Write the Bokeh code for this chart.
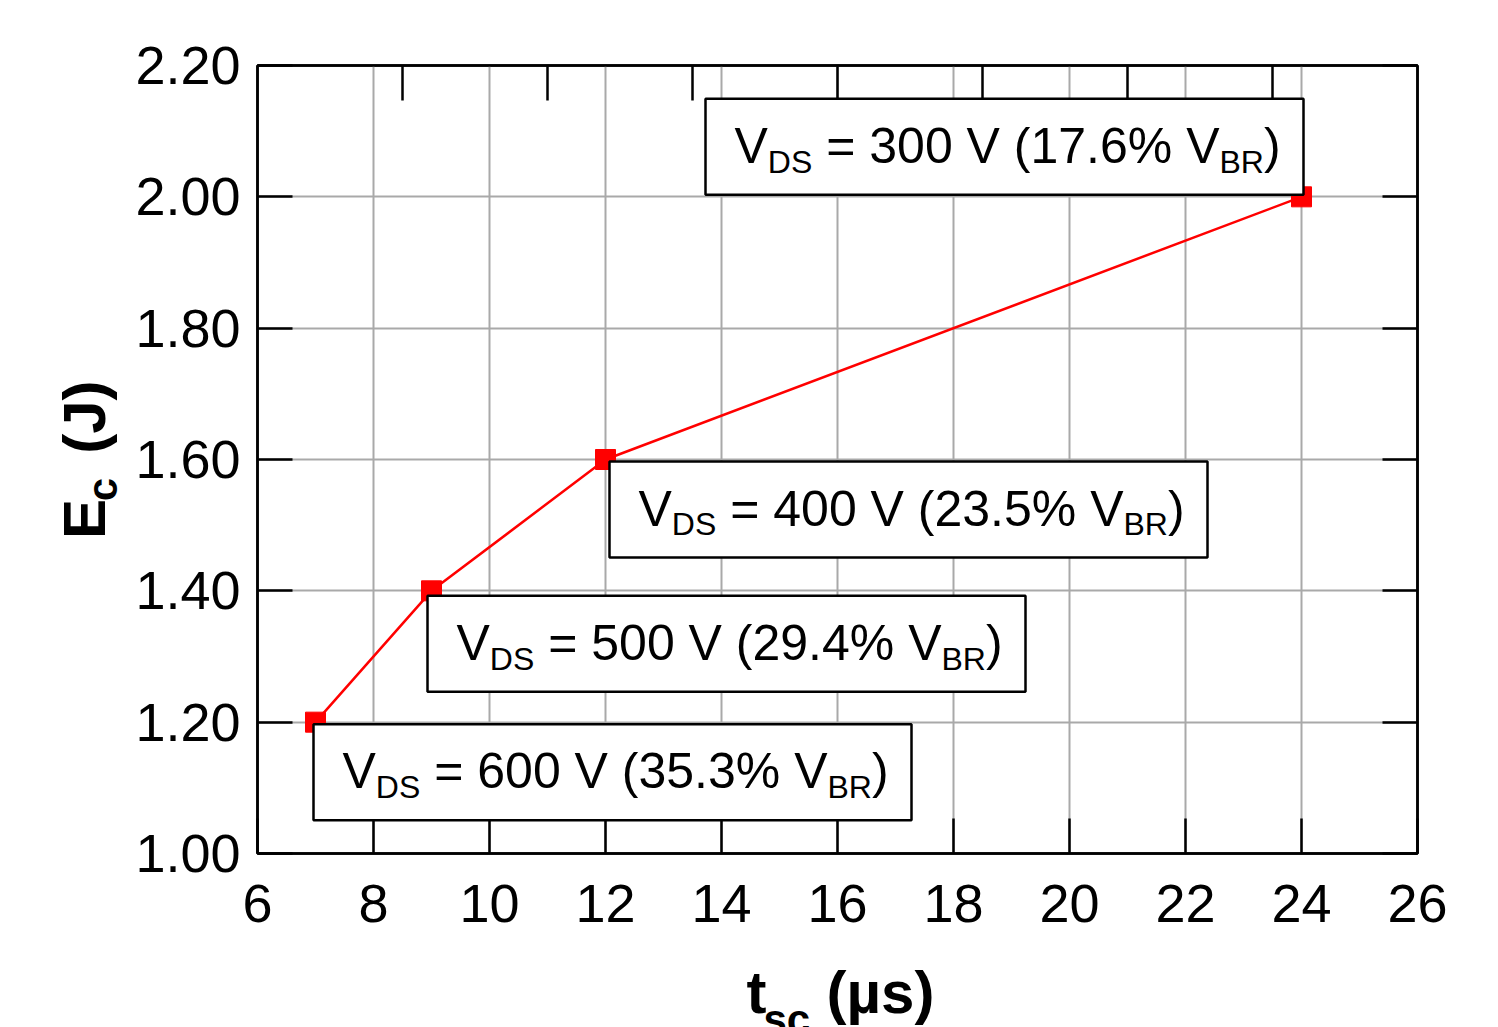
import math
from bokeh.plotting import figure
from bokeh.layouts import row, column
from bokeh.models import Range1d, LinearAxis, FixedTicker, NumeralTickFormatter
from bokeh.core.properties import value
from bokeh.embed import file_html
from bokeh.resources import INLINE

# ---------------- data ----------------
t_sc = [7, 9, 12, 24]                 # short-circuit time (us)
e_c = [1.20, 1.40, 1.60, 2.00]        # critical energy (J)
vds = [600, 500, 400, 300]            # V_DS (V)
vbr_pct = ["35.3", "29.4", "23.5", "17.6"]  # % of V_BR

x_ticks = [6, 8, 10, 12, 14, 16, 18, 20, 22, 24, 26]
y_ticks = [1.00, 1.20, 1.40, 1.60, 1.80, 2.00, 2.20]
top_ticks = [8.5, 11, 13.5, 16, 18.5, 21, 23.5]

X0, X1 = 6, 26
Y0, Y1 = 1.0, 2.2

# ---------------- layout helpers ----------------
PAGE_W, PAGE_H = 1498, 1027
LEFT_W = 130          # strip holding the y title
MAIN_H = 960          # main figure height (bottom strip holds the x title)
FW, FH = 1160, 788
XPP = (X1 - X0) / FW
YPP = (Y1 - Y0) / FH
FL, FT = 257, 65      # frame left / top on page

FONT = "Liberation Sans"
ARIAL = {' ': 278, '=': 584, '(': 333, ')': 333, '.': 278, '%': 889,
         'V': 667, 'D': 722, 'S': 667, 'B': 667, 'R': 722}
for d in "0123456789":
    ARIAL[d] = 556


def adv(s, size):
    return sum(ARIAL.get(c, 556) for c in s) * size / 1000.0


BL = 0.354   # baseline correction of text glyphs (fraction of font size)

p = figure(frame_width=FW, frame_height=FH,
           min_border_left=FL - LEFT_W, min_border_right=PAGE_W - FL - FW,
           min_border_top=FT, min_border_bottom=MAIN_H - FT - FH,
           x_range=Range1d(X0, X1), y_range=Range1d(Y0, Y1),
           output_backend="svg", toolbar_location=None)
p.background_fill_color = "white"
p.border_fill_color = "white"
p.outline_line_color = "black"
p.outline_line_width = 2.5

# grid
p.xgrid.ticker = FixedTicker(ticks=x_ticks)
p.ygrid.ticker = FixedTicker(ticks=y_ticks)
for g in (p.xgrid, p.ygrid):
    g.grid_line_color = "#a9a9a9"
    g.grid_line_width = 2


def style_axis(ax):
    ax.axis_line_color = "black"
    ax.axis_line_width = 2.5
    ax.major_tick_line_color = "black"
    ax.major_tick_line_width = 2.5
    ax.major_tick_in = 35
    ax.major_tick_out = 0
    ax.minor_tick_line_color = None
    ax.major_label_text_font = FONT
    ax.major_label_text_font_size = "54px"
    ax.major_label_text_color = "black"


xa = p.xaxis[0]
xa.ticker = FixedTicker(ticks=x_ticks)
xa.formatter = NumeralTickFormatter(format="0")
style_axis(xa)
xa.major_label_standoff = 31

ya = p.yaxis[0]
ya.ticker = FixedTicker(ticks=y_ticks)
ya.formatter = NumeralTickFormatter(format="0.00")
style_axis(ya)
ya.major_label_standoff = 17

ra = LinearAxis(ticker=FixedTicker(ticks=y_ticks),
                major_label_overrides={t: "" for t in y_ticks})
style_axis(ra)
p.add_layout(ra, "right")

ta = LinearAxis(ticker=FixedTicker(ticks=top_ticks),
                major_label_overrides={t: "" for t in top_ticks})
style_axis(ta)
p.add_layout(ta, "above")

# data
p.line(t_sc, e_c, line_color="red", line_width=2.5)
p.scatter(t_sc, e_c, marker="square", size=20, color="red", line_color="red")

# annotation boxes (offsets of box top-left corner from point, screen px)
box_off = [(-2, 2), (-4, 5), (4, 2), (-596, -98)]
BW, BH = 598, 96
F, S = 50, 32
INSET = 29
BASE_MAIN = 65 - BL * F     # baseline 65 px below box top
BASE_SUB = 74 - BL * S      # subscript baseline 9 px lower

ql, qr, qt, qb = [], [], [], []
mx, my, mt = [], [], []
sx, sy, st = [], [], []
for x, y, v, pc, (ox, oy) in zip(t_sc, e_c, vds, vbr_pct, box_off):
    left = x + ox * XPP
    top = y - oy * YPP
    ql.append(left)
    qr.append(left + BW * XPP)
    qt.append(top)
    qb.append(top - BH * YPP)
    pieces = [("V", False, 0), ("DS", True, 0), (f"= {v} V ({pc}% V", False, 1),
              ("BR", True, 0), (")", False, 0)]
    cur = INSET
    for txt, sub, sp in pieces:
        cur += sp * adv(" ", F)
        size = S if sub else F
        xx = left + cur * XPP
        if sub:
            sx.append(xx); sy.append(top - BASE_SUB * YPP); st.append(txt)
        else:
            mx.append(xx); my.append(top - BASE_MAIN * YPP); mt.append(txt)
        cur += adv(txt, size)

qr_ = p.quad(left=ql, right=qr, top=qt, bottom=qb, fill_color="white",
             line_color="black", line_width=2.5)
qr_.level = "overlay"
t1 = p.text(mx, my, text=mt, text_font=value(FONT), text_font_size=f"{F}px",
            text_color="black", text_baseline="alphabetic", text_align="left")
t1.level = "overlay"
t2 = p.text(sx, sy, text=st, text_font=value(FONT), text_font_size=f"{S}px",
            text_color="black", text_baseline="alphabetic", text_align="left")
t2.level = "overlay"


# ---------------- axis titles in their own strips ----------------
def strip(w, h):
    f = figure(width=w, height=h, min_border=0, x_range=Range1d(0, w), y_range=Range1d(0, h),
               x_axis_type=None, y_axis_type=None, output_backend="svg",
               toolbar_location=None)
    f.outline_line_color = None
    f.background_fill_color = "white"
    f.border_fill_color = "white"
    return f


pl = strip(LEFT_W, MAIN_H)
# y title: "E" + subscript "c" + "(J)", rotated; (baseline x, anchor y) in page px
ylab = [("E", 60, 105, 577), ("c", 42, 117, 531), ("(J)", 60, 105, 473)]
for txt, size, bx, by in ylab:
    pl.text([bx - BL * size], [MAIN_H - by], text=[txt], angle=math.pi / 2,
            text_font=value(FONT), text_font_size=f"{size}px", text_font_style="bold",
            text_color="black", text_baseline="alphabetic", text_align="left")

BOT_H = PAGE_H - MAIN_H
pb = strip(PAGE_W, BOT_H)
xlab = [("t", 60, 746, 1013), ("sc", 42, 763, 1034), ("(µs)", 60, 826, 1013)]
for txt, size, bx, by in xlab:
    pb.text([bx], [PAGE_H - (by - BL * size)], text=[txt],
            text_font=value(FONT), text_font_size=f"{size}px", text_font_style="bold",
            text_color="black", text_baseline="alphabetic", text_align="left")

layout = column(row(pl, p, spacing=0), pb, spacing=0)
open("out.html", "w").write(file_html(layout, INLINE))
